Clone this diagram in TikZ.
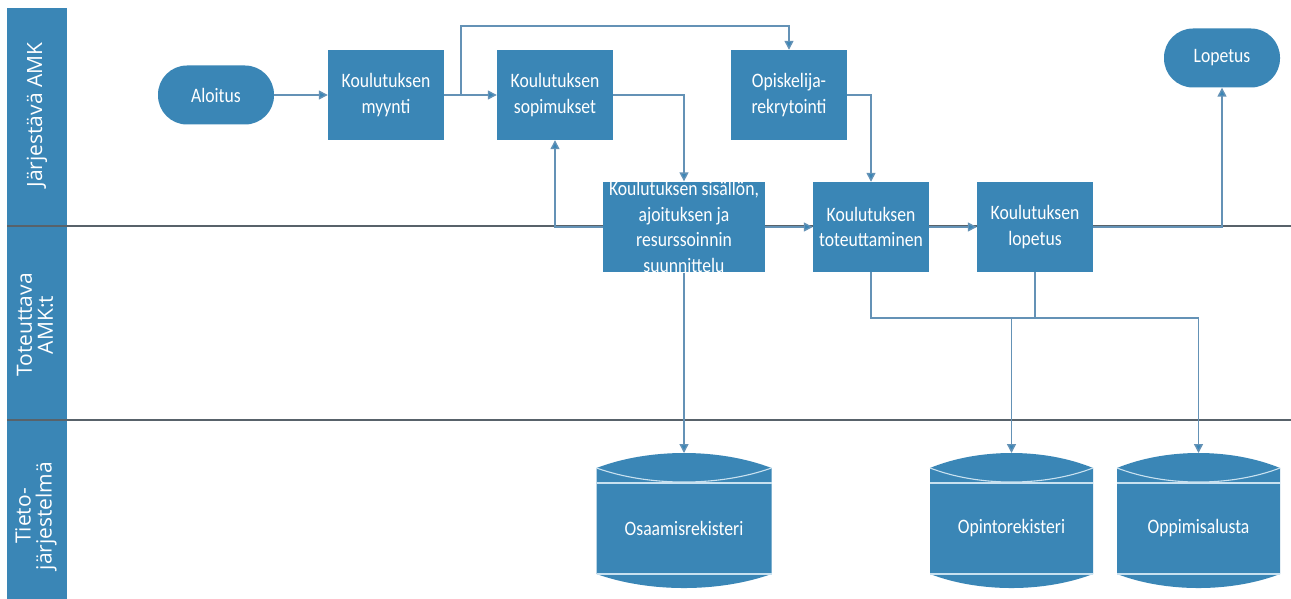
\documentclass[tikz,border=0pt]{standalone}
\usepackage{fontspec}
\setmainfont{Carlito}
\newfontfamily\boxfont[FakeStretch=0.86]{Carlito}
\newfontfamily\lanefont{Open Sans}
\usetikzlibrary{arrows.meta}
\definecolor{boxblue}{RGB}{58,134,182}
\definecolor{linkblue}{RGB}{100,146,182}
\definecolor{lanegrey}{RGB}{88,98,106}
\definecolor{cylline}{RGB}{200,225,240}
\newcommand{\dbcyl}[4]{%
  \fill[boxblue] (#2-#3,468) -- (#2-#3,574)
    .. controls (#2-0.4*#3,592.7) and (#2+0.4*#3,592.7) .. (#2+#3,574)
    -- (#2+#3,468)
    .. controls (#2+0.4*#3,448) and (#2-0.4*#3,448) .. (#2-#3,468) -- cycle;
  \draw[cylline, line width=1.1pt] (#2-#3,468)
    .. controls (#2-0.4*#3,486.7) and (#2+0.4*#3,486.7) .. (#2+#3,468);
  \draw[cylline, line width=1.1pt] (#2-#3,483) -- (#2+#3,483);
  \draw[cylline, line width=1.1pt] (#2-#3,574) -- (#2+#3,574);
  \node[dbtext] (#1) at (#2,528) {#4};
  \coordinate (#1-top) at (#2,453);
}
\begin{document}
\begin{tikzpicture}[x=1pt,y=-1pt,
  proc/.style={rectangle, fill=boxblue, text=white, minimum width=116pt,
    minimum height=90pt, inner sep=0pt, align=center,
    font=\boxfont\fontsize{20.5}{25.5}\selectfont},
  term/.style={rectangle, rounded corners=29pt, fill=boxblue, text=white,
    minimum width=116pt, minimum height=59pt, inner sep=0pt,
    font=\boxfont\fontsize{20.5}{25.5}\selectfont},
  dbtext/.style={text=white, inner sep=0pt, font=\boxfont\fontsize{20.5}{25.5}\selectfont},
  lanelabel/.style={rotate=90, text=white, align=center,
    font=\lanefont\fontsize{21}{21}\selectfont},
  link/.style={draw=linkblue, line width=1.4pt,
    -{Triangle[length=9pt,width=9pt,fill=boxblue]}},
  plainlink/.style={draw=linkblue, line width=1.4pt},
  divider/.style={draw=lanegrey, line width=1.6pt}]
\useasboundingbox (0,0) rectangle (1291,599);
\fill[white] (0,0) rectangle (1291,599);
% lane header band
\fill[boxblue] (7,8) rectangle (67,599);
\draw[divider] (7,226) -- (1291,226);
\draw[divider] (7,420) -- (1291,420);
\node[lanelabel] (lane1) at (37,115) {Järjestävä\ AMK};
\node[lanelabel] (lane2) at (35,325) {Toteuttava\\AMK:t};
\node[lanelabel] (lane3) at (36,516) {Tieto-\\järjestelmä};
% process nodes
\node[term] (start) at (216,95) {Aloitus};
\node[proc] (sales) at (386,95) {Koulutuksen\\myynti};
\node[proc] (contracts) at (555,95) {Koulutuksen\\sopimukset};
\node[proc] (recruit) at (789,95) {Opiskelija-\\rekrytointi};
\node[term] (end) at (1222,58) {Lopetus};
\node[proc, minimum width=162pt] (plan) at (684,227)
  {Koulutuksen sisällön,\\ajoituksen ja\\resurssoinnin\\suunnittelu};
\node[proc] (impl) at (871,227) {Koulutuksen\\toteuttaminen};
\node[proc] (close) at (1035,227) {Koulutuksen\\lopetus};
% data stores
\dbcyl{osaam}{684}{87.5}{Osaamisrekisteri}
\dbcyl{opinto}{1011.5}{81.5}{Opintorekisteri}
\dbcyl{oppimi}{1198.5}{81.5}{Oppimisalusta}
% connectors
\coordinate (b1) at (461,26);
\coordinate (bus) at (1198.5,318);
\draw[link] (start) -- (sales);
\draw[link] (sales) -- (contracts);
\draw[link] (sales.east) -| (b1) -| (recruit.north);
\draw[link] (contracts.east) -| (plan.north);
\draw[link] (recruit.east) -| (impl.north);
\draw[link] (plan.west) -| (contracts.south);
\draw[link] (plan) -- (impl);
\draw[link] (impl) -- (close);
\draw[link] (close.east) -| (end.south);
\draw[link] (plan.south) -- (osaam-top);
\draw[link] (impl.south) |- (bus) -- (oppimi-top);
\draw[plainlink] (close.south) -- (close.south |- bus);
\draw[link] (opinto-top |- bus) -- (opinto-top);
\end{tikzpicture}
\end{document}
